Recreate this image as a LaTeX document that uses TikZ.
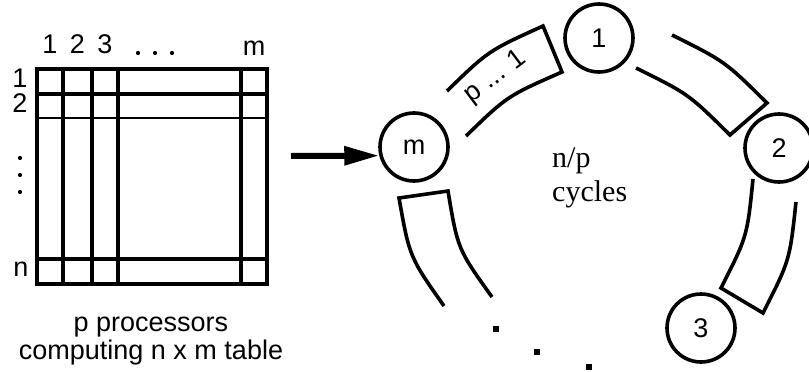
\documentclass[tikz,border=0pt]{standalone}
\usepackage{fontspec}
\setmainfont{Liberation Sans}
\newfontfamily\serifface{Liberation Serif}
\usetikzlibrary{arrows.meta}

\begin{document}
\begin{tikzpicture}[x=1pt,y=-1pt,
  gridline/.style={line width=3.6pt},
  thingrid/.style={line width=2.6pt},
  proc/.style={circle, draw, line width=3.6pt, minimum size=68pt, inner sep=0pt,
               font=\fontsize{27}{27}\selectfont},
  lbl/.style={font=\fontsize{27}{27}\selectfont, inner sep=0pt},
  caption/.style={font=\fontsize{27}{27}\selectfont, inner sep=0pt},
  sertext/.style={font=\serifface\fontsize{30}{30}\selectfont, inner sep=0pt},
  band/.style={draw, line width=3.6pt, line join=miter},
  dotsq/.style={fill, minimum size=6.5pt, inner sep=0pt},
  smalldot/.style={fill, circle, minimum size=4.2pt, inner sep=0pt}
]
\useasboundingbox (0,0) rectangle (809,372);

% ---- the n x m table ----
\draw[gridline] (37,69) rectangle (267,284);
\foreach \x in {63,92,118,241} \draw[gridline] (\x,69) -- (\x,284);
\draw[gridline] (37,94) -- (267,94);
\draw[thingrid] (37,118) -- (267,118);
\draw[gridline] (37,259) -- (267,259);

% column labels
\node[lbl] (col1) at (50,44) {1};
\node[lbl] (col2) at (77.5,44) {2};
\node[lbl] (col3) at (105,44) {3};
\node[smalldot] (cdot1) at (138,53) {};
\node[smalldot] (cdot2) at (155,53) {};
\node[smalldot] (cdot3) at (172,53) {};
\node[lbl] (colm) at (254,48) {m};

% row labels
\node[lbl] (row1) at (20,78) {1};
\node[lbl] (row2) at (20,103) {2};
\node[smalldot] (rdot1) at (20,158) {};
\node[smalldot] (rdot2) at (20,175) {};
\node[smalldot] (rdot3) at (20,192) {};
\node[lbl] (rown) at (21,269) {n};

% caption
\node[caption, anchor=base] (cap1) at (151,331) {p processors};
\node[caption, anchor=base] (cap2) at (151,359) {computing n x m table};

% ---- ring of processors ----
\node[proc] (m)  at (414,147) {m};
\node[proc] (p1) at (599,38)  {1};
\node[proc] (p2) at (779,148) {2};
\node[proc] (p3) at (701,328) {3};

% input arrow
\coordinate (arrstart) at (291,156);
\draw[line width=6pt, -{Triangle[length=35pt,width=18pt]}] (arrstart) -- (m.194);

% pipes between neighbouring processors
\draw[band] (447,91) .. controls (488.3,50.8) .. (543,26) -- (562,72)
            .. controls (507.3,96) .. (466,136);
\draw[band] (672,35) .. controls (725,61.4) .. (767,103) -- (730,135)
            .. controls (688.4,93.9) .. (636,68);
\draw[band] (753,179) .. controls (747.2,236.5) .. (721,288) -- (763,313)
            .. controls (789.7,260.5) .. (796,202);
\draw[band] (444,306) .. controls (409.5,257) .. (399,198) -- (448,191)
            .. controls (457.7,249.1) .. (492,297);

\node[lbl, rotate=37] (pipelabel) at (496,77) {p ... 1};

% centre text
\node[sertext, anchor=base west] (np) at (552,167) {n/p};
\node[sertext, anchor=base west] (cyc) at (552,201) {cycles};

% remaining processors, elided
\node[dotsq] (el1) at (496,329) {};
\node[dotsq] (el2) at (537,352) {};
\node[dotsq] (el3) at (589,367) {};
\end{tikzpicture}
\end{document}
